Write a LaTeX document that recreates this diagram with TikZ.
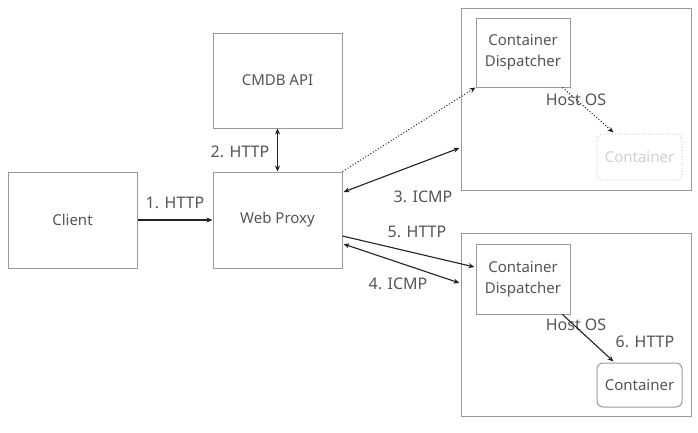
\documentclass[tikz,border=0pt]{standalone}
\usepackage{fontspec}
\setmainfont{Noto Sans}
\usetikzlibrary{arrows.meta,calc}
\definecolor{boxgray}{HTML}{9A9A9A}
\definecolor{txtgray}{HTML}{555555}
\definecolor{faint}{HTML}{D0D0D0}
\definecolor{arrowc}{HTML}{222222}
\tikzset{
  box/.style={draw=boxgray, line width=1pt, rectangle, inner sep=0pt, align=center, text=txtgray, font=\fontsize{15}{21}\selectfont},
  lbl/.style={text=txtgray, font=\fontsize{16}{19}\selectfont, inner sep=0pt},
  conn/.style={draw=arrowc, line width=1.1pt, -{Stealth[length=6pt,width=5pt]}},
  conn2/.style={draw=arrowc, line width=1.1pt, {Stealth[length=6pt,width=5pt]}-{Stealth[length=6pt,width=5pt]}},
  dconn/.style={draw=arrowc, line width=1pt, dotted, -{Stealth[length=6pt,width=5pt]}},
}
\begin{document}
\begin{tikzpicture}[x=1pt,y=-1pt]
\useasboundingbox (0,0) rectangle (698,432);
\fill[white] (0,0) rectangle (698,432);
% boxes
\node[box, minimum width=129pt, minimum height=96pt] (client) at (72.5,220) {Client};
\node[box, minimum width=129pt, minimum height=96pt] (proxy) at (277.5,220) {Web Proxy};
\node[box, minimum width=129pt, minimum height=95pt] (cmdb) at (277.5,80.5) {CMDB API};
\node[box, minimum width=230pt, minimum height=182pt] (host1) at (576,99) {};
\node[box, minimum width=94pt, minimum height=69pt] (disp1) at (523,52.5) {Container\\Dispatcher};
\node[box, draw=faint, dotted, rounded corners=6pt, text=faint, minimum width=85pt, minimum height=46pt] (cont1) at (639.5,157) {Container};
\node[box, minimum width=230pt, minimum height=183pt] (host2) at (576,324.5) {};
\node[box, minimum width=94pt, minimum height=70pt] (disp2) at (523,279) {Container\\Dispatcher};
\node[box, rounded corners=6pt, minimum width=85pt, minimum height=44pt] (cont2) at (639.5,385) {Container};
% labels
\node[lbl] (l1) at (175,203) {1. HTTP};
\node[lbl] (l2) at (240,152) {2. HTTP};
\node[lbl] (l3) at (423,197) {3. ICMP};
\node[lbl] (l5) at (417,232) {5. HTTP};
\node[lbl] (l4) at (398,284) {4. ICMP};
\node[lbl] (l6) at (645,342) {6. HTTP};
\node[lbl] (h1) at (576,100) {Host OS};
\node[lbl] (h2) at (576,325) {Host OS};
% connectors
\draw[conn] (client.east) -- (proxy.west);
\draw[conn2] (cmdb.south) -- (proxy.north);
\draw[dconn] (proxy.north east) -- (disp1.south west);
\draw[conn2] ($(proxy.east)+(1,-28)$) -- ($(host1.west)+(-1,49)$);
\draw[conn] ($(proxy.east)+(0,16)$) -- ($(disp2.west)+(-1,-12)$);
\draw[conn2] ($(proxy.east)+(1,24)$) -- ($(host2.west)+(-1,-41.5)$);
\draw[dconn] ($(disp1.south east)+(-8,0)$) -- ($(cont1.north)+(-26,-1)$);
\draw[conn] ($(disp2.south east)+(-8,0)$) -- ($(cont2.north)+(-26,-1)$);
\end{tikzpicture}
\end{document}
